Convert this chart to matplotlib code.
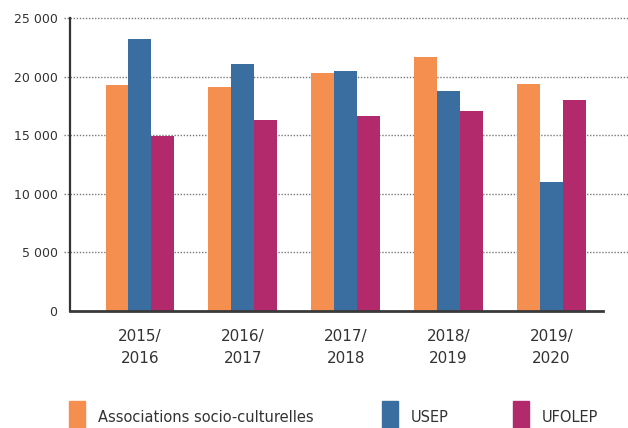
import matplotlib
matplotlib.use("Agg")
import matplotlib.pyplot as plt
from matplotlib.patches import Rectangle
import numpy as np

categories = ["2015/\n2016", "2016/\n2017", "2017/\n2018", "2018/\n2019", "2019/\n2020"]
series_names = ["Associations socio-culturelles", "USEP", "UFOLEP"]
assoc = [19300, 19100, 20300, 21700, 19400]
usep = [23200, 21100, 20500, 18800, 11000]
ufolep = [14900, 16300, 16600, 17100, 18000]
yticks = [0, 5000, 10000, 15000, 20000, 25000]
ytick_labels = ["0", "5 000", "10 000", "15 000", "20 000", "25 000"]

colors = ["#F58F4F", "#3B6EA0", "#B22A6B"]
text_color = "#333333"
font = "DejaVu Sans"

W, H = 628, 428
fig = plt.figure(figsize=(W / 100, H / 100), dpi=100)
ax = fig.add_axes([70 / W, 1 - 311 / H, (603 - 70) / W, (311 - 18) / H])

x = np.arange(len(categories))
bw = 0.223
for i, (vals, c) in enumerate(zip([assoc, usep, ufolep], colors)):
    ax.bar(x + (i - 1) * bw, vals, width=bw, color=c, zorder=2, linewidth=0)

ax.set_xlim(-0.68, 4.5)
ax.set_ylim(0, 25000)

# dotted gridlines extending past the axes
for t in yticks[1:]:
    ax.plot([-0.012, 1.05], [t, t], transform=ax.get_yaxis_transform(),
            color="#7a7a7a", lw=1.0, linestyle=(0, (1, 1.2)), clip_on=False, zorder=1)

for s in ["top", "right"]:
    ax.spines[s].set_visible(False)
ax.spines["left"].set_color("#333333")
ax.spines["left"].set_linewidth(1.6)
ax.spines["bottom"].set_color("#3a3a3a")
ax.spines["bottom"].set_linewidth(2.0)
ax.spines["bottom"].set_zorder(3)

ax.set_yticks(yticks)
ax.set_yticklabels(ytick_labels, fontsize=9, color=text_color, family=font)
ax.tick_params(axis="y", length=0, pad=9)
ax.set_xticks(x)
ax.set_xticklabels(categories, fontsize=11, color=text_color, family=font, linespacing=1.6)
ax.tick_params(axis="x", length=0, pad=13)

# legend drawn manually
leg_items = [(69, series_names[0]), (382, series_names[1]), (513, series_names[2])]
for (px, name), c in zip(leg_items, colors):
    fig.patches.append(Rectangle((px / W, 0), 16 / W, (428 - 401) / H,
                                 transform=fig.transFigure, color=c, figure=fig))
    fig.text((px + 29) / W, 1 - 417 / H, name, fontsize=10.5, color=text_color,
             family=font, va="center", ha="left")

fig.savefig("out.png", dpi=100)
